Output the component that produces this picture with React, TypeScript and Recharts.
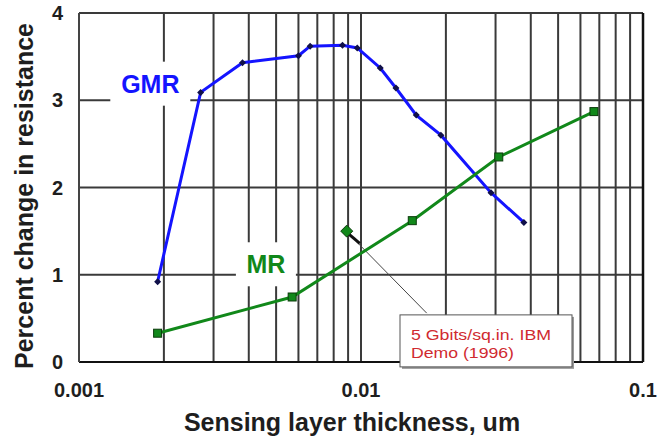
import {
  ComposedChart,
  Line,
  Scatter,
  XAxis,
  YAxis,
  CartesianGrid,
  ReferenceLine,
  ReferenceDot,
} from "recharts";

// GMR curve
const gmrX = [0.0019, 0.0027, 0.0038, 0.006, 0.0066, 0.0086, 0.0097, 0.0117, 0.0133, 0.0157, 0.0192, 0.0289, 0.0378];
const gmrY = [0.92, 3.09, 3.43, 3.51, 3.62, 3.63, 3.6, 3.37, 3.14, 2.83, 2.6, 1.94, 1.6];

// MR curve
const mrX = [0.0019, 0.0057, 0.0152, 0.0308, 0.067];
const mrY = [0.33, 0.745, 1.62, 2.35, 2.87];

// IBM demo point
const demoX = [0.0089];
const demoY = [1.5];

const xTicks = [0.001, 0.01, 0.1];
const yTicks = [0, 1, 2, 3, 4];
const minorX = [
  0.002, 0.003, 0.004, 0.005, 0.006, 0.007, 0.008, 0.009, 0.01,
  0.02, 0.03, 0.04, 0.05, 0.06, 0.07, 0.08, 0.09,
];

const gmrData = gmrX.map((x, i) => ({ x, y: gmrY[i] }));
const mrData = mrX.map((x, i) => ({ x, y: mrY[i] }));
const demoData = demoX.map((x, i) => ({ x, y: demoY[i] }));

const FONT = '"Liberation Sans", Arial, sans-serif';
const GRID = "#3a3a3a";
const BLUE = "#1414ff";
const GREEN = "#11881a";
const TEXT = "#1e1e1e";

// eslint-disable-next-line @typescript-eslint/no-explicit-any
function GmrDot(props: any) {
  const { cx, cy } = props;
  if (cx == null || cy == null) return null;
  return (
    <path
      d={`M${cx},${cy - 3.5} L${cx + 3.5},${cy} L${cx},${cy + 3.5} L${cx - 3.5},${cy} Z`}
      fill="#10104a"
    />
  );
}

// eslint-disable-next-line @typescript-eslint/no-explicit-any
function MrDot(props: any) {
  const { cx, cy } = props;
  if (cx == null || cy == null) return null;
  return <rect x={cx - 4} y={cy - 4} width={8} height={8} fill={GREEN} stroke="#0b3b0b" strokeWidth={1} />;
}

// eslint-disable-next-line @typescript-eslint/no-explicit-any
function DemoDot(props: any) {
  const { cx, cy } = props;
  if (cx == null || cy == null) return null;
  return (
    <path
      d={`M${cx},${cy - 6} L${cx + 6},${cy} L${cx},${cy + 6} L${cx - 6},${cy} Z`}
      fill={GREEN}
      stroke="#0b3b0b"
      strokeWidth={1}
    />
  );
}

function seriesLabel(text: string, color: string, w: number, h: number) {
  // eslint-disable-next-line @typescript-eslint/no-explicit-any
  return (props: any) => {
    const { cx, cy } = props;
    return (
      <g>
        <rect x={cx - w / 2} y={cy - h / 2} width={w} height={h} fill="#fff" />
        <text
          x={cx}
          y={cy + 9}
          textAnchor="middle"
          fill={color}
          fontFamily={FONT}
          fontWeight="bold"
          fontSize={25}
        >
          {text}
        </text>
      </g>
    );
  };
}

// eslint-disable-next-line @typescript-eslint/no-explicit-any
function NoteBox(props: any) {
  const { cx, cy } = props;
  return (
    <g>
      <rect x={cx + 2} y={cy + 2} width={172} height={52} fill="#9a9a9a" />
      <rect x={cx} y={cy} width={172} height={52} fill="#fff" stroke="#555" strokeWidth={1} />
      <text
        x={cx + 11}
        y={cy + 25}
        fill="#d02a30"
        fontFamily={FONT}
        fontSize={15.5}
        textLength={140}
        lengthAdjust="spacingAndGlyphs"
      >
        5 Gbits/sq.in. IBM
      </text>
      <text
        x={cx + 11}
        y={cy + 43}
        fill="#d02a30"
        fontFamily={FONT}
        fontSize={15.5}
        textLength={103}
        lengthAdjust="spacingAndGlyphs"
      >
        Demo (1996)
      </text>
    </g>
  );
}

function XTitle() {
  return (
    <text x={352} y={431} textAnchor="middle" fill={TEXT} fontFamily={FONT} fontWeight="bold" fontSize={25}>
      Sensing layer thickness, um
    </text>
  );
}

function YTitle() {
  return (
    <text
      x={33}
      y={196}
      transform="rotate(-90 33 196)"
      textAnchor="middle"
      fill={TEXT}
      fontFamily={FONT}
      fontWeight="bold"
      fontSize={25}
    >
      Percent change in resistance
    </text>
  );
}

export default function App() {
  return (
    <div style={{ position: "absolute", left: 0, top: 0, width: 662, height: 438, background: "#fff" }}>
      <ComposedChart width={662} height={438} margin={{ top: 13, right: 19, bottom: 0, left: 0 }}>
        <CartesianGrid stroke={GRID} strokeWidth={2} vertical={false} />
        <XAxis
          dataKey="x"
          type="number"
          scale="log"
          domain={[0.001, 0.1]}
          ticks={xTicks}
          allowDataOverflow
          height={76}
          tickSize={0}
          tickMargin={21}
          axisLine={{ stroke: "#111", strokeWidth: 2 }}
          tick={{ fill: TEXT, fontSize: 20, fontWeight: "bold", fontFamily: FONT }}
          label={{ content: XTitle }}
        />
        <YAxis
          type="number"
          domain={[0, 4]}
          ticks={yTicks}
          width={79}
          tickSize={0}
          tickMargin={16}
          axisLine={{ stroke: "#444", strokeWidth: 2 }}
          tick={{ fill: TEXT, fontSize: 20, fontWeight: "bold", fontFamily: FONT }}
          label={{ content: YTitle }}
        />
        {minorX.map((v) => (
          <ReferenceLine key={v} x={v} stroke={GRID} strokeWidth={2} />
        ))}
        <ReferenceLine x={0.1} stroke="#111" strokeWidth={2.5} />
        <ReferenceDot x={0.00179} y={3.19} r={0} shape={seriesLabel("GMR", BLUE, 80, 44)} />
        <ReferenceDot x={0.0046} y={1.12} r={0} shape={seriesLabel("MR", GREEN, 60, 44)} />
        <ReferenceLine
          segment={[
            { x: 0.0095, y: 1.4 },
            { x: 0.0171, y: 0.56 },
          ]}
          stroke="#444"
          strokeWidth={1}
        />
        <ReferenceLine
          segment={[
            { x: 0.0091, y: 1.46 },
            { x: 0.0099, y: 1.36 },
          ]}
          stroke="#111"
          strokeWidth={3}
        />
        <Line
          data={gmrData}
          dataKey="y"
          type="linear"
          stroke={BLUE}
          strokeWidth={3}
          dot={<GmrDot />}
          activeDot={false}
          isAnimationActive={false}
        />
        <Line
          data={mrData}
          dataKey="y"
          type="linear"
          stroke={GREEN}
          strokeWidth={3}
          dot={<MrDot />}
          activeDot={false}
          isAnimationActive={false}
        />
        <Scatter data={demoData} dataKey="y" shape={<DemoDot />} isAnimationActive={false} />
        <ReferenceDot x={0.01375} y={0.54} r={0} ifOverflow="visible" shape={NoteBox} />
      </ComposedChart>
    </div>
  );
}
